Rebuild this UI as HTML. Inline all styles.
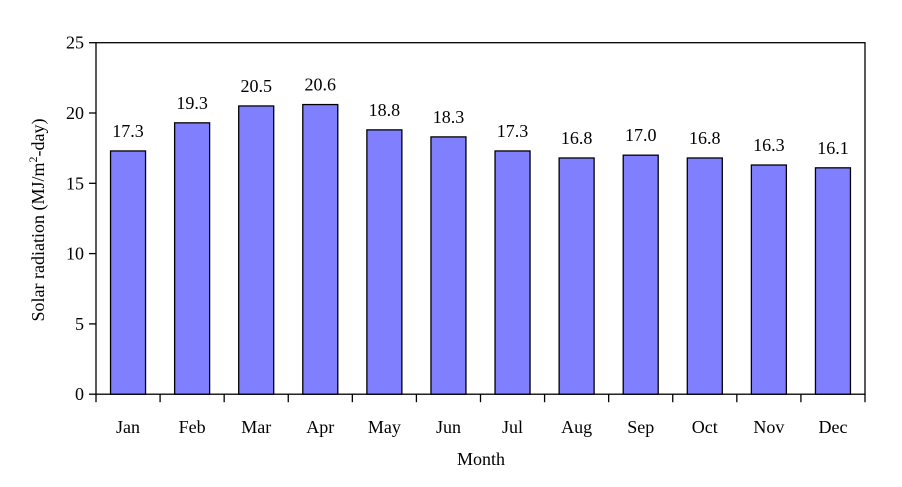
<!DOCTYPE html>
<html><head><meta charset="utf-8"><style>
body{margin:0;background:#fff}
svg text{font-family:"Liberation Serif",serif;fill:#000}
</style></head><body>
<svg id="chart" width="902" height="482" xmlns="http://www.w3.org/2000/svg">
<g id="plot"></g>
<text x="481" y="465" font-size="18" text-anchor="middle">Month</text>
<text transform="translate(44,220) rotate(-90)" font-size="18" text-anchor="middle">Solar radiation (MJ/m<tspan dy="-7" font-size="12">2</tspan><tspan dy="7">-day)</tspan></text>
</svg>
<script>
const categories=["Jan","Feb","Mar","Apr","May","Jun","Jul","Aug","Sep","Oct","Nov","Dec"];
const values=[17.3,19.3,20.5,20.6,18.8,18.3,17.3,16.8,17.0,16.8,16.3,16.1];
const yTicks=[0,5,10,15,20,25];
const L=96,R=865,T=42.7,B=394.2,yMax=25;
const NS="http://www.w3.org/2000/svg";
const g=document.getElementById('plot');
const y=v=>B-(v/yMax)*(B-T);
const band=(R-L)/categories.length;
const x=i=>L+band*i;
function el(t,a){const e=document.createElementNS(NS,t);for(const k in a)e.setAttribute(k,a[k]);g.appendChild(e);return e;}
const frame=el('rect',{x:L,y:T,width:R-L,height:B-T,fill:'none',stroke:'#000','stroke-width':1.3});


yTicks.forEach(v=>{
  const t=el('line',{x1:L-7,x2:L,y1:y(v),y2:y(v),stroke:'#000','stroke-width':1.3});
  
  
  const l=el('text',{x:L-12,y:y(v)+6,'font-size':18,'text-anchor':'end'});
  l.textContent=v;
  
  
});
categories.forEach((c,i)=>{
  const t=el('line',{x1:x(i),x2:x(i),y1:B,y2:B+8,stroke:'#000','stroke-width':1.3});
  
  
  const cx=x(i)+band/2,bw=35;
  const b=el('rect',{x:cx-bw/2,y:y(values[i]),width:bw,height:B-y(values[i]),fill:'#8080ff',stroke:'#000','stroke-width':1.3});
  
  
  const v=el('text',{x:cx,y:y(values[i])-14,'font-size':18,'text-anchor':'middle'});
  v.textContent=values[i].toFixed(1);
  
  
  const l=el('text',{x:cx,y:433,'font-size':18,'text-anchor':'middle'});
  l.textContent=c;
  
  
});
const lastTick=el('line',{x1:x(12),x2:x(12),y1:B,y2:B+8,stroke:'#000','stroke-width':1.3});


</script>
</body></html>
